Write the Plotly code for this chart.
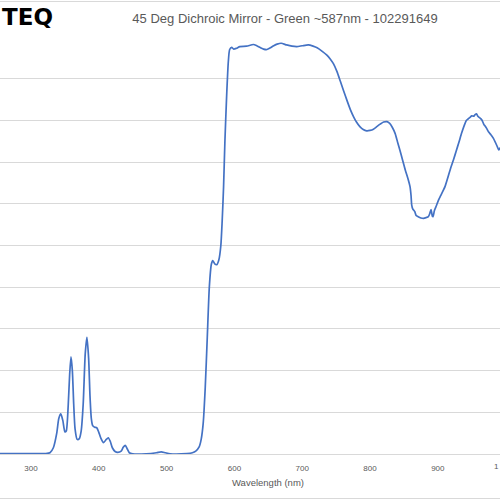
import plotly.graph_objects as go

wavelength = [250, 300, 322, 328, 333, 338, 341, 344, 347, 350, 352, 355, 357, 359, 361, 363, 365, 368,
              371, 374, 377, 380, 382.5, 385, 387, 389, 391, 394, 397, 400, 403, 407, 411, 414, 417, 420,
              424, 428, 433, 436, 439, 442, 445, 450, 470, 485, 492, 498, 505, 530, 538, 543, 548, 551,
              554, 557, 560, 563, 566, 568, 571, 574, 577, 580, 582, 584, 586, 588.5, 591, 593, 596, 599,
              603, 608, 618, 628, 633, 638, 643, 648, 653, 658, 663, 669, 677, 685, 692, 700, 709, 716,
              722, 730, 736, 741, 746, 751, 756, 761, 766, 771, 776, 780, 785, 790, 795, 800, 805, 810,
              815, 820, 825, 829, 833, 837, 841, 844, 848, 852, 856, 859, 860.5, 861.5, 863, 866, 868,
              871, 875, 879, 883, 886, 888, 890, 891, 892, 893, 895, 898, 901, 904, 908, 911, 915, 919,
              923, 927, 931, 935, 939, 942, 945, 948, 950, 953, 955, 957, 959, 962, 965, 968, 970, 972,
              975, 978, 982, 985, 988, 990, 992, 995]
transmission = [0.1, 0.1, 0.1, 0.3, 1.5, 5, 8.5, 9.6, 8, 5.3, 5.5, 12, 19, 23.3, 20, 12, 6, 3.5,
                3.6, 5.5, 12, 24, 28, 23, 14, 8.5, 6.8, 6.4, 6.3, 5.2, 3.8, 2.7, 3.5, 3.9, 3.0, 1.5,
                0.6, 0.4, 0.7, 1.6, 2.1, 1.2, 0.3, 0.05, 0.05, 0.3, 0.5, 0.3, 0.05, 0.1, 0.3, 0.7, 1.7, 3.5,
                7.4, 16, 28, 40, 45.5, 46.4, 45.6, 45.4, 46.5, 50, 56, 64, 75, 85.7, 94, 97, 97.5, 97.1,
                97.3, 97.7, 97.8, 98.2, 97.9, 97.5, 97.1, 97.0, 97.4, 97.9, 98.3, 98.5, 98.1, 97.8, 97.7, 97.9, 98.1, 97.8,
                97.4, 96.5, 95.7, 94.8, 93.6, 91.8, 89.5, 87.1, 84.8, 82.6, 80.8, 79.6, 78.5, 77.8, 77.5, 77.6, 77.9, 78.5,
                79.1, 79.6, 79.7, 79.3, 78.3, 76.9, 74.6, 72.9, 70.5, 68.1, 66, 64.1, 62, 59.7, 58.8, 58.1, 57.2,
                56.9, 56.6, 56.5, 56.7, 56.9, 57.6, 58.6, 57.8, 57.0, 56.9, 58.4, 59.6, 60.9, 61.9, 63.2, 64.3, 66.4, 68.6,
                70.5, 72.6, 74.7, 76.9, 78.8, 80.0, 80.4, 80.8, 81.1, 81.0, 81.4, 81.6, 81.0, 80.6, 80.1, 79.0, 78.6, 78.1,
                77.2, 76.6, 75.7, 74.7, 73.6, 72.9, 73.4, 72.1]

x_ticks = [300, 400, 500, 600, 700, 800, 900, 1000]
y_ticks = [0, 10, 20, 30, 40, 50, 60, 70, 80, 90, 100]

title_text = "45 Deg Dichroic Mirror - Green ~587nm - 102291649"
x_title = "Wavelength (nm)"
logo_text = "TEQ"

grey = "#595959"
grid = "#d9d9d9"

fig = go.Figure()
fig.add_trace(go.Scatter(x=wavelength, y=transmission, mode="lines",
                         line=dict(color="#4472C4", width=1.7, shape="spline", smoothing=0.6),
                         showlegend=False, hoverinfo="skip"))

W, H = 500, 500
mt, mb = 37, 46
ph = H - mt - mb

fig.update_layout(
    width=W, height=H,
    margin=dict(l=0, r=0, t=mt, b=mb, pad=0, autoexpand=False),
    paper_bgcolor="white", plot_bgcolor="white",
    font=dict(family="Liberation Sans, Arial, sans-serif", color=grey),
    xaxis=dict(range=[254.3, 991.7], tickvals=x_ticks, ticktext=[str(v) for v in x_ticks],
               showgrid=False, zeroline=False, showline=True, linecolor=grid, linewidth=1,
               automargin=False,
               ticks="", tickfont=dict(size=8, color=grey), ticklabelstandoff=6),
    yaxis=dict(range=[0, 100], tickvals=y_ticks, showticklabels=False, showgrid=True,
               automargin=False,
               gridcolor=grid, gridwidth=1, zeroline=False, showline=False, ticks=""),
    title=dict(text=title_text, x=285 / W, xanchor="center", y=1 - 18 / H, yanchor="middle",
               font=dict(size=13, color=grey), automargin=False),
)

# x-axis title (offset to the right as in the reference)
fig.add_annotation(text=x_title, xref="paper", yref="paper", x=268 / W, xanchor="center",
                   y=-(482 - (H - mb)) / ph, yanchor="middle", showarrow=False,
                   font=dict(size=9.5, color=grey))

fig.add_annotation(text="<b>" + logo_text + "</b>", xref="paper", yref="paper",
                   x=55 / W, xanchor="right", y=1 + (mt - 17) / ph, yanchor="middle",
                   showarrow=False, font=dict(size=23, color="black",
                                              family="DejaVu Sans, Liberation Sans, sans-serif"))
# partially visible 1000 tick label at the right edge
fig.add_annotation(text="1", xref="paper", yref="paper", x=1.0, xanchor="right",
                   y=-(466 - (H - mb)) / ph, yanchor="middle", showarrow=False,
                   font=dict(size=8, color=grey), borderpad=0)

# chart-area border lines (top and bottom)
for ypix in (1.5, 498.5):
    yp = 1 - (ypix - mt) / ph
    fig.add_shape(type="line", xref="paper", yref="paper", x0=0, x1=1, y0=yp, y1=yp,
                  line=dict(color=grid, width=1))

fig.write_html("out.html", config={"displayModeBar": False},
               post_script="document.body.style.margin='0';document.body.style.overflow='hidden';")
